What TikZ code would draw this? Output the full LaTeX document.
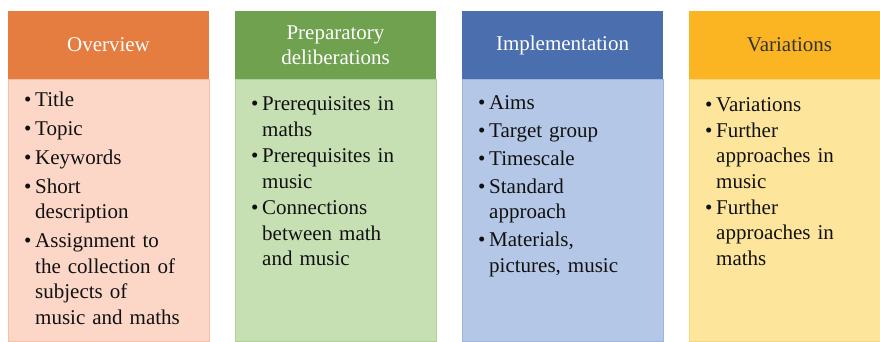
\documentclass[tikz,border=0pt]{standalone}
\usepackage{fontspec}
\setmainfont{Liberation Serif}
\newfontfamily\tnr{Liberation Serif}
% bullet item with hanging indent
\newcommand{\bul}{\par\hangindent=11pt\hangafter=1\noindent\makebox[11pt][l]{\strut\textbullet}}
\definecolor{orH}{HTML}{E47D3F}
\definecolor{orB}{HTML}{FCD6C7}
\definecolor{orL}{HTML}{F6BFA8}
\definecolor{grH}{HTML}{6FA14F}
\definecolor{grB}{HTML}{C6E0B4}
\definecolor{grL}{HTML}{B0D298}
\definecolor{blH}{HTML}{4A6EAE}
\definecolor{blB}{HTML}{B4C7E7}
\definecolor{blL}{HTML}{9DB4DE}
\definecolor{yeH}{HTML}{FCB522}
\definecolor{yeB}{HTML}{FEE59C}
\definecolor{yeL}{HTML}{F8D680}
\definecolor{ink}{HTML}{111111}
\begin{document}
\begin{tikzpicture}[x=1pt,y=-1pt,
  head/.style={rectangle,inner sep=0,minimum width=201pt,minimum height=68pt,
    align=center,font=\tnr\fontsize{21}{25}\selectfont},
  bodybox/.style={rectangle,anchor=north,inner sep=0,minimum width=201pt,
    minimum height=262pt,line width=0.8pt},
  items/.style={anchor=north west,inner sep=0,text width=182pt,align=left,
    text=ink,font=\tnr\fontsize{21}{25.5}\selectfont}]
\useasboundingbox (0,0) rectangle (880,341);
\clip (0,0) rectangle (880,341);

% column bodies
\node[bodybox,fill=orB,draw=orL] (b1) at (108.5,79) {};
\node[bodybox,fill=grB,draw=grL] (b2) at (335.5,79) {};
\node[bodybox,fill=blB,draw=blL] (b3) at (562.5,79) {};
\node[bodybox,fill=yeB,draw=yeL] (b4) at (789.5,79) {};

% column headers
\node[head,fill=orH,text=white] (h1) at (108.5,45) {Overview};
\node[head,fill=grH,text=white] (h2) at (335.5,45) {Preparatory\\deliberations};
\node[head,fill=blH,text=white] (h3) at (562.5,45) {Implementation};
\node[head,fill=yeH,text=black!80] (h4) at (789.5,45) {Variations};

% bullet lists
\node[items] (t1) at (24,77.2) {\setlength\parskip{3.5pt}%
  \bul Title
  \bul Topic
  \bul Keywords
  \bul Short\newline description
  \bul Assignment to\newline the collection of\newline subjects of\newline music and maths\par};
\node[items] (t2) at (251,84.2) {\setlength\parskip{1pt}%
  \bul Prerequisites in\newline maths
  \bul Prerequisites in\newline music
  \bul Connections\newline between math\newline and music\par};
\node[items] (t3) at (478,81.2) {\setlength\parskip{2.5pt}%
  \bul Aims
  \bul Target group
  \bul Timescale
  \bul Standard\newline approach
  \bul Materials,\newline pictures, music\par};
\node[items] (t4) at (705,85.2) {\setlength\parskip{0.5pt}%
  \bul Variations
  \bul Further\newline approaches in\newline music
  \bul Further\newline approaches in\newline maths\par};
\end{tikzpicture}
\end{document}
